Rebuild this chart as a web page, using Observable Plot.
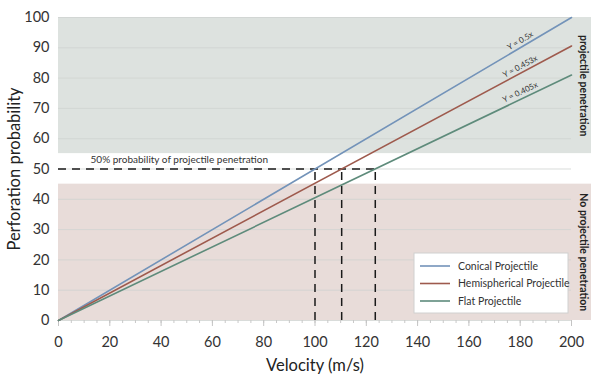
<!DOCTYPE html>
<html><head><meta charset="utf-8">
<script src="https://cdn.jsdelivr.net/npm/d3@7"></script>
<script src="https://cdn.jsdelivr.net/npm/@observablehq/plot@0.6"></script>
<style>
body{margin:0;background:#fff;}
#chart svg{font-family:Lato,"Open Sans",sans-serif;}
</style>
</head><body><div id="chart"></div><script>
// ---- data ----
const velocity = [0, 200];
const conical = [0, 100];
const hemispherical = [0, 90.6];
const flat = [0, 81];
const seriesNames = ["Conical Projectile", "Hemispherical Projectile", "Flat Projectile"];
const seriesColors = ["#7393b9", "#9e5a4d", "#5e8b7b"];
const equationLabels = ["Y = 0.5x", "Y = 0.453x", "Y = 0.405x"];
const equationY = [90, 81.5, 73];
const crossVelocities = [100, 110.4, 123.5];
const threshold = 50;
const bandLow = [0, 45];
const bandMid = [45, 55];
const bandHigh = [55, 100];
const xTicks = d3.range(0, 201, 20);
const xMinorTicks = d3.range(0, 201, 5);
const yTicks = d3.range(0, 101, 10);

// ---- build tables ----
const lineRows = [];
[conical, hemispherical, flat].forEach((vals, i) => {
  vals.forEach((v, j) => lineRows.push({series: seriesNames[i], x: velocity[j], y: v}));
});
const bands = [
  {y1: bandHigh[0], y2: bandHigh[1], fill: "#dde2df", label: "projectile penetration"},
  {y1: bandMid[0], y2: bandMid[1], fill: "#ffffff", label: ""},
  {y1: bandLow[0], y2: bandLow[1], fill: "#e8dcd9", label: "No projectile penetration"}
];
const eqRows = equationLabels.map((t, i) => ({t, x: 180, y: equationY[i], r: [-30.5, -28, -25.5][i]}));

const W = 591, H = 374, mL = 58, mR = 20, mT = 17, mB = 54;
const xRight = 200 + (mR) / ((W - mL - mR) / 200);

const chart = Plot.plot({
  width: W, height: H,
  marginLeft: mL, marginRight: mR, marginTop: mT, marginBottom: mB,
  x: {type: "linear", domain: [0, 200]},
  y: {type: "linear", domain: [0, 100]},
  style: {fontFamily: "Lato, 'Open Sans', sans-serif", background: "#fff"},
  marks: [
    Plot.rectY(bands, {x1: 0, x2: xRight, y1: "y1", y2: "y2", fill: "fill"}),
    Plot.ruleY(yTicks, {x1: 0, x2: 200, stroke: "#cfd3d1", strokeOpacity: 0.8, strokeWidth: 1}),
    Plot.axisX(xMinorTicks, {tickSize: 3, text: null, stroke: "#c8c8c8", label: null}),
    Plot.axisX(xTicks, {tickSize: 6, tickPadding: 10, stroke: "#c4c4c4", fill: "#333", fontSize: 14.5, label: null}),
    Plot.axisY(yTicks, {tickSize: 0, tickPadding: 9, fill: "#333", fontSize: 14.5, label: null}),
    Plot.ruleY([threshold], {x1: 0, x2: crossVelocities[2], stroke: "#1a1a1a", strokeWidth: 1.5, strokeDasharray: "8,6"}),
    Plot.ruleX(crossVelocities, {y1: 0, y2: threshold, stroke: "#1a1a1a", strokeWidth: 1.5, strokeDasharray: "8,6"}),
    Plot.line(lineRows, {x: "x", y: "y", z: "series", stroke: "series", strokeWidth: 1.6}),
    Plot.text(eqRows, {x: "x", y: "y", text: "t", rotate: "r", fontSize: 8, fill: "#333", dy: -7}),
    Plot.text(["50% probability of projectile penetration"], {x: 12.5, y: threshold, dy: -9, textAnchor: "start", fontSize: 10, fill: "#333"}),
    Plot.text(bands.filter(d => d.label), {x: 204.8, y: d => (d.y1 + d.y2) / 2, text: "label", rotate: 90, fontSize: 10.5, fontWeight: "bold", fill: "#222"}),
    Plot.text(["Perforation probability"], {frameAnchor: "left", textAnchor: "middle", lineAnchor: "middle", dx: -44, rotate: -90, fontSize: 16.5, fill: "#222"}),
    Plot.text(["Velocity (m/s)"], {frameAnchor: "bottom", lineAnchor: "middle", dy: 45, fontSize: 16.5, fill: "#222"})
  ],
  color: {domain: seriesNames, range: seriesColors}
});

// legend box inside plot
const svg = d3.select(chart);
const lg = svg.append("g").attr("transform", "translate(414,253)").attr("text-anchor", "start");
lg.append("rect").attr("width", 154).attr("height", 60).attr("fill", "#fff").attr("stroke", "#d0d0d0");
seriesNames.forEach((n, i) => {
  const y = 13 + i * 17.5;
  lg.append("line").attr("x1", 6).attr("x2", 36).attr("y1", y).attr("y2", y).attr("stroke", seriesColors[i]).attr("stroke-width", 1.6);
  lg.append("text").attr("x", 44).attr("y", y).attr("dy", "0.35em").attr("font-size", 10.5).attr("fill", "#333").attr("text-anchor", "start").text(n);
});

document.getElementById("chart").append(chart);
</script></body></html>
